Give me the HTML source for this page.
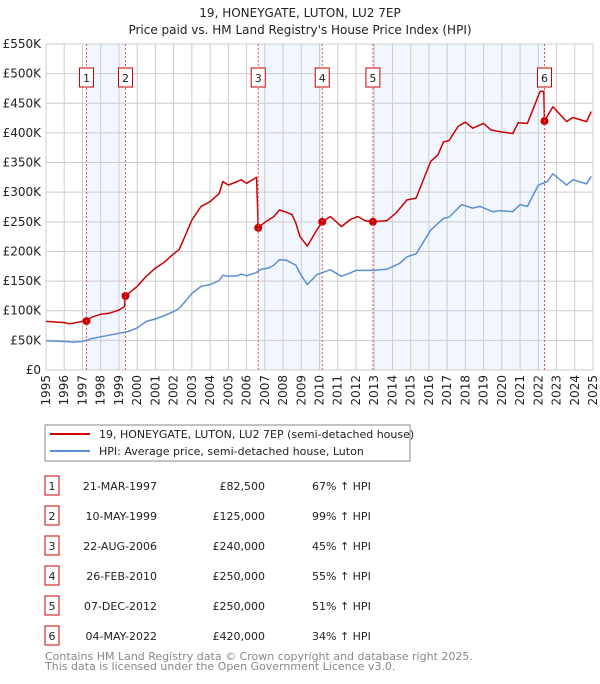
<!DOCTYPE html>
<html><head><meta charset="utf-8">
<style>
body{margin:0;background:#fff;font-family:"DejaVu Sans","Liberation Sans",sans-serif;}
svg text{font-family:"DejaVu Sans","Liberation Sans",sans-serif;}
</style></head>
<body>
<svg id="chart" width="600" height="680" viewBox="0 0 600 680" xmlns="http://www.w3.org/2000/svg">
<text x="300" y="17" text-anchor="middle" font-size="12" fill="#222">19, HONEYGATE, LUTON, LU2 7EP</text>
<text x="300" y="34" text-anchor="middle" font-size="12" fill="#222">Price paid vs. HM Land Registry's House Price Index (HPI)</text>
<g id="bands"></g><g id="grid"></g><g id="axes"></g><g id="series"></g><g id="markers"></g>
<rect x="45" y="425" width="365" height="36" fill="#fff" stroke="#888"/>
<line x1="50" y1="434" x2="90" y2="434" stroke="#cc0000" stroke-width="2"/>
<text x="99" y="438" font-size="11" fill="#222">19, HONEYGATE, LUTON, LU2 7EP (semi-detached house)</text>
<line x1="50" y1="451" x2="90" y2="451" stroke="#5b8fd4" stroke-width="2"/>
<text x="99" y="455" font-size="11" fill="#222">HPI: Average price, semi-detached house, Luton</text>
<g id="table"></g>
<text x="45" y="660" font-size="11" fill="#888">Contains HM Land Registry data © Crown copyright and database right 2025.</text>
<text x="45" y="670" font-size="11" fill="#888">This data is licensed under the Open Government Licence v3.0.</text>
</svg>
<script>
const hpiYears=[1995,1996,1996.5,1997,1997.2,1997.5,1998,1999,1999.5,2000,2000.5,2001,2001.5,2002,2002.3,2002.7,2003,2003.5,2004,2004.5,2004.7,2005,2005.5,2005.7,2006,2006.5,2006.8,2007.2,2007.5,2007.8,2008.2,2008.5,2008.7,2008.93,2009.33,2009.85,2010.6,2011.2,2011.7,2012.0,2013.0,2013.7,2014.4,2014.8,2015.3,2016.1,2016.8,2017.1,2017.8,2018.4,2018.8,2019.5,2019.9,2020.6,2021.0,2021.4,2022.0,2022.5,2022.8,2023.55,2023.9,2024.65,2024.9];
const hpiValues=[49.5,48,47,48,50,53,56,62,65,71,82,86,92,98.5,104,118,129,141,144,151,160,158,159,162,159,164,170,172,177,186,185,180,177,163,144,161,169,158,164,168,168,170,180,191,196,236,256,258,279,273,276,267,269,267,279,276,312,318,331,312,321,314,327];
const priceYears=[1995,1996,1996.3,1997,1997.22,1997.5,1998,1998.5,1999,1999.3,1999.36,2000,2000.5,2001,2001.5,2002,2002.3,2002.7,2003,2003.5,2004,2004.5,2004.7,2005,2005.5,2005.7,2006,2006.55,2006.64,2007,2007.5,2007.8,2008.2,2008.5,2008.7,2008.93,2009.33,2009.85,2010.15,2010.6,2011.2,2011.7,2012.1,2012.5,2012.93,2013.7,2014.2,2014.8,2015.3,2016.1,2016.5,2016.8,2017.1,2017.6,2018.0,2018.4,2019.0,2019.4,2019.9,2020.6,2020.9,2021.4,2022.1,2022.3,2022.34,2022.8,2023.55,2023.9,2024.65,2024.9];
const priceValues=[82,80,78,82,82.5,89,94,96,101,107,125,141,158,172,182,196,203,231,253,276,284,298,318,312,318,321,315,325,240,249,259,270,266,262,248,225,209,236,250,259,242,254,259,252,250,252,265,287,290,352,363,385,387,411,418,408,416,405,402,399,417,416,470,470,420,444,419,426,419,436];
const saleLabels=["1","2","3","4","5","6"];
const saleYears=[1997.22,1999.36,2006.64,2010.15,2012.93,2022.34];
const saleValues=[82.5,125,240,250,250,420];
const saleDates=["21-MAR-1997","10-MAY-1999","22-AUG-2006","26-FEB-2010","07-DEC-2012","04-MAY-2022"];
const salePrices=["£82,500","£125,000","£240,000","£250,000","£250,000","£420,000"];
const saleHpi=["67% ↑ HPI","99% ↑ HPI","45% ↑ HPI","55% ↑ HPI","51% ↑ HPI","34% ↑ HPI"];
const yTicks=[0,50,100,150,200,250,300,350,400,450,500,550];
const yTickLabels=["£0","£50K","£100K","£150K","£200K","£250K","£300K","£350K","£400K","£450K","£500K","£550K"];
const xTicks=[1995,1996,1997,1998,1999,2000,2001,2002,2003,2004,2005,2006,2007,2008,2009,2010,2011,2012,2013,2014,2015,2016,2017,2018,2019,2020,2021,2022,2023,2024,2025];

const NS="http://www.w3.org/2000/svg";
const L=46,R=593,T=44,B=370;
const xs=y=>L+(y-1995)*(R-L)/30;
const ys=v=>B-v*(B-T)/550;
function mk(tag,attrs,parent,txt){const e=document.createElementNS(NS,tag);for(const k in attrs)e.setAttribute(k,attrs[k]);if(txt!==undefined)e.textContent=txt;document.getElementById(parent).appendChild(e);return e;}

for(let i=0;i<saleYears.length;i+=2){
  const x1=xs(saleYears[i]),x2=xs(saleYears[i+1]);
  const r=mk('rect',{x:x1,y:T,width:x2-x1,height:B-T,fill:'#f2f6fe'},'bands');
  
  
}
yTicks.forEach((v,i)=>{
  const l=mk('line',{x1:L,x2:R,y1:ys(v),y2:ys(v),stroke:'#cccccc','stroke-width':1},'grid');
  
  
  const t=mk('text',{x:L-5,y:ys(v)+4,'text-anchor':'end','font-size':12,fill:'#222'},'axes',yTickLabels[i]);
  
  
});
xTicks.forEach(y=>{
  const l=mk('line',{x1:xs(y),x2:xs(y),y1:T,y2:B,stroke:'#cccccc','stroke-width':1},'grid');
  
  
  const t=mk('text',{x:0,y:0,transform:`translate(${xs(y)+4},${B+5}) rotate(-90)`,'text-anchor':'end','font-size':12,fill:'#222'},'axes',String(y));
  
  
});
saleYears.forEach((y,i)=>{
  const l=mk('line',{x1:xs(y),x2:xs(y),y1:T,y2:B,stroke:'#e05555','stroke-width':1,'stroke-dasharray':'2,2'},'markers');
  
  
  const b=mk('rect',{x:xs(y)-7,y:68,width:14,height:19,fill:'#fff',stroke:'#cc0000'},'markers');
  
  
  const t=mk('text',{x:xs(y),y:82,'text-anchor':'middle','font-size':11,fill:'#222'},'markers',saleLabels[i]);
  
  
});
function path(xa,va,color,name){
  const d=xa.map((x,i)=>(i?'L':'M')+xs(x).toFixed(1)+','+ys(va[i]).toFixed(1)).join('');
  const p=mk('path',{d:d,fill:'none',stroke:color,'stroke-width':1.5,'stroke-linejoin':'round'},'series');
  
  
}
path(hpiYears,hpiValues,'#5b8fd4','hpi-line');
path(priceYears,priceValues,'#cc0000','price-paid-line');
saleYears.forEach((y,i)=>{
  const c=mk('circle',{cx:xs(y),cy:ys(saleValues[i]),r:4,fill:'#cc0000'},'series');
  
  
});
saleLabels.forEach((s,i)=>{
  const yy=476+i*30;
  const b=mk('rect',{x:45,y:yy,width:14,height:19,fill:'#fff',stroke:'#cc0000'},'table');
  
  
  const t=mk('text',{x:52,y:yy+14,'text-anchor':'middle','font-size':11,fill:'#222'},'table',s);
  
  
  const d=mk('text',{x:157,y:yy+14,'text-anchor':'end','font-size':11,fill:'#222'},'table',saleDates[i]);
  
  
  const p=mk('text',{x:265,y:yy+14,'text-anchor':'end','font-size':11,fill:'#222'},'table',salePrices[i]);
  
  
  const h=mk('text',{x:312,y:yy+14,'font-size':11,fill:'#222'},'table',saleHpi[i]);
  
  
});
</script>
</body></html>
